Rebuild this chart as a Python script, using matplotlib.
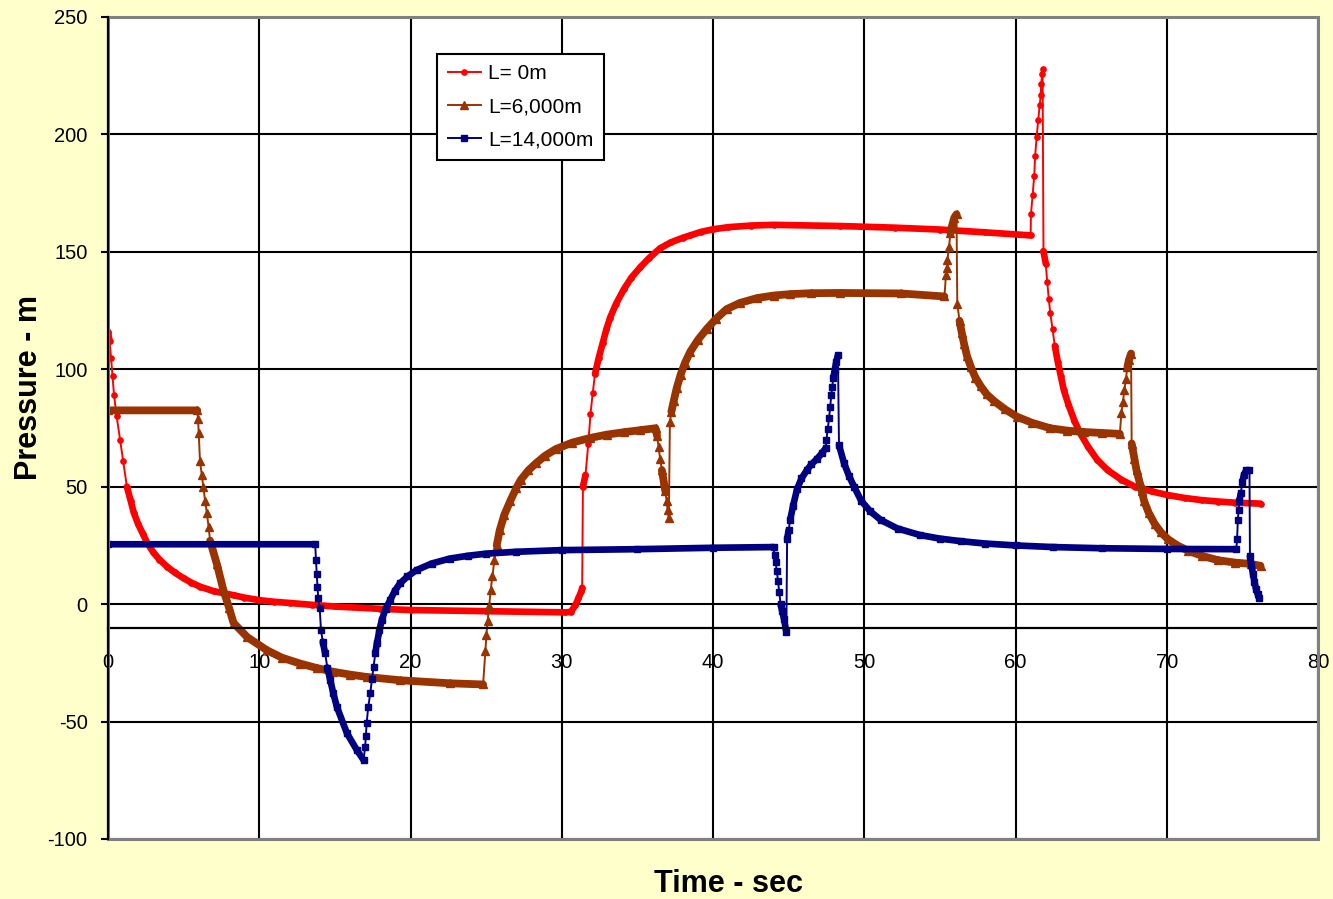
import numpy as np
import matplotlib
matplotlib.use("Agg")
import matplotlib.pyplot as plt
from matplotlib.patches import Rectangle

plt.rcParams['font.family'] = ['Liberation Sans', 'DejaVu Sans']
plt.rcParams['axes.unicode_minus'] = False

# L = 0 m
t_red = [0.0, 0.1, 0.2, 0.3, 0.4, 0.57, 0.8, 1.0, 1.25, 1.5, 1.7, 2.0, 2.3, 2.6, 3.0,
         3.4, 3.9, 4.4, 5.0, 5.5, 6.1, 7.0, 8.3, 9.0, 10, 11, 12, 13.5, 15, 18, 20,
         25, 30.2, 30.6, 30.9, 31.1, 31.3, 31.35,
         31.4, 31.57, 31.75, 31.9, 32.05, 32.2, 32.45, 32.7, 32.95, 33.2, 33.6, 34.1,
         34.6, 35.2, 35.8, 36.5, 37.2, 38.0, 38.5, 39.2, 40, 41, 42.5, 44, 48.4, 52,
         55, 58, 61.0, 61.02, 61.13, 61.24, 61.3, 61.4, 61.5,
         61.6, 61.67, 61.7, 61.76, 61.79, 61.85, 62.0, 62.1, 62.2, 62.3, 62.45, 62.6,
         62.8, 63.0, 63.2, 63.5, 63.9, 64.3, 64.8, 65.4, 66.1, 67.0, 67.9, 69.0, 70.1,
         71.2, 72.3, 73.4, 74.5, 76.2]
p_red = [116, 112, 105, 97, 89, 80, 70, 61, 50, 44, 39, 34, 30, 26, 22,
         19, 16, 13.5, 11, 9.2, 7.4, 5.5, 3.8, 2.8, 1.7, 1.0, 0.5, -0.3, -1, -2, -2.5,
         -3, -3.5, -3.3, -0.5, 2.5, 5.5, 7,
         50, 55, 68, 81, 90, 98, 105, 111, 117, 122, 128, 134,
         139, 143.5, 147.5, 151.5, 154, 156, 157, 158.5, 159.6, 160.5, 161.2, 161.5, 161, 160.3,
         159.5, 158.3, 157, 166, 174, 182.5, 191, 199, 206,
         212.6, 216.7, 221.5, 225.6, 228, 150.3, 145, 137, 130, 124, 117, 110,
         103, 97, 91, 85, 78, 72.5, 67, 61.5, 57, 53, 50, 48, 46.4,
         45.2, 44.3, 43.7, 43.2, 42.8]

# L = 6,000 m
t_brown = [0, 5.9, 5.95, 6.0, 6.08, 6.2, 6.3, 6.42, 6.53, 6.65, 6.75, 7.2, 7.63, 8.0,
           8.3, 9.2, 10.5, 11.5, 12.7, 13.8, 14.9, 16, 17.1, 19.3, 22.6, 24.8, 24.95,
           25.02, 25.1, 25.2, 25.3, 25.42, 25.55, 25.7, 25.9, 26.2, 26.6, 27.0, 27.3,
           27.8, 28.3, 28.9, 29.6, 30.7, 31.9, 33.0, 34.1, 35.2,
           36.2, 36.3, 36.4, 36.5, 36.62, 36.75, 36.85, 36.93, 37.0, 37.08, 37.15,
           37.25, 37.4, 37.6, 37.86, 38.15, 38.5, 39.0, 39.6, 40.2, 40.9, 41.8, 42.9,
           44.0, 45.1, 46.5, 48.4, 52.4, 55.3,
           55.4, 55.45, 55.5, 55.6, 55.7, 55.8, 55.95, 56.1, 56.15, 56.3, 56.45, 56.6,
           56.8, 57.05, 57.35, 57.7, 58.1, 58.6, 59.3, 60.1, 61.1, 62.3, 63.4, 64.5,
           65.7, 66.9, 67.0, 67.1, 67.2, 67.3, 67.4, 67.5,
           67.64, 67.68, 67.86, 68.0, 68.2, 68.35, 68.5, 68.8, 69.2, 69.6, 70.07, 70.7,
           71.4, 72.3, 73.4, 74.5, 75.6, 76.2]
p_brown = [82.5, 82.5, 79, 72.7, 61, 55, 50, 44, 39, 33, 27, 17, 6, -1.5,
           -8, -14, -19.6, -22.8, -25.3, -27.2, -28.8, -30, -31, -32.4, -33.7, -34.2, -20,
           -13, -7, -1, 6, 12, 19, 25, 31.5, 38, 44, 49.5, 53,
           57, 60, 63.2, 66, 68.8, 70.8, 72.2, 73.2, 74.1,
           74.9, 71.7, 67, 62, 57, 52, 48, 44, 40, 36.6, 77.5,
           82, 86.4, 92, 97.7, 102.8, 107.5, 112.5, 117.3, 121.5, 125.6, 128.3, 130.3,
           131.4, 132, 132.4, 132.5, 132.3, 131,
           140, 143, 146.6, 152, 158, 161, 164.5, 166, 128, 120.6, 115.5, 110.8,
           105.5, 101, 96.5, 92.8, 89.3, 86.4, 83, 79.8, 77.2, 74.9, 73.9, 73.3,
           72.9, 72.5, 81.4, 86, 91.2, 96, 101, 104,
           106.7, 68.4, 61.9, 57, 52.1, 48, 44, 39, 34.2, 30.7, 27.7, 25,
           22.8, 20.6, 18.7, 17.7, 17.1, 16.3]

# L = 14,000 m
t_blue = [0, 13.7, 13.75, 13.8, 13.85, 13.9, 14.0, 14.08, 14.2, 14.36, 14.5, 14.7,
          14.9, 15.13, 15.8, 16.46, 16.9, 17.0, 17.05, 17.1, 17.2, 17.34, 17.45,
          17.56, 17.67, 17.78, 17.95, 18.1, 18.35, 18.66, 18.95, 19.3, 19.8, 20.4,
          21.4, 22.6, 23.8, 25, 27, 30, 35,
          40, 44.0, 44.07, 44.14, 44.22, 44.3, 44.38, 44.47, 44.58, 44.7, 44.85, 44.9,
          45.0, 45.1, 45.3, 45.56, 45.85, 46.2, 46.5, 46.9, 47.2, 47.45, 47.5, 47.58,
          47.67, 47.75, 47.82, 47.88, 47.95, 48.05, 48.15, 48.26, 48.33, 48.67, 49.0,
          49.33, 49.8, 50.4, 51.1, 52.2, 53.7, 55.0, 56.4, 58.0, 60, 62.5, 65.7, 70.0,
          74.6, 74.65, 74.7, 74.75, 74.8, 74.9, 75.0, 75.1, 75.25,
          75.47, 75.5, 75.6, 75.7, 75.8, 75.9, 76.0, 76.1]
p_blue = [25.5, 25.5, 18.7, 13, 7.4, 2.5, -1.8, -11, -16, -21, -27, -32.4,
          -38, -43.7, -55, -62.2, -66.4, -60.7, -56, -50.8, -44, -38, -32,
          -26.7, -21, -16.7, -11, -6.8, -2, 1.7, 5.5, 8.8, 11.8, 14.5,
          17.3, 19.4, 20.6, 21.5, 22.3, 23, 23.4,
          24, 24.3, 21, 17.9, 14, 9.8, 5, 0, -3, -6.4, -12, 27.7,
          31.5, 35.8, 42, 49, 53.5, 57, 59.5, 62, 64.3, 66.4, 70.1, 74.4,
          79.1, 84, 89, 92.5, 96.1, 99.6, 103.2, 106, 67.7, 59.9, 54.5,
          50, 44, 39.5, 35.8, 32.2, 29.4, 27.9, 26.8, 25.8, 25, 24.3, 23.8, 23.5,
          23.4, 27.7, 35.8, 40, 44, 47.3, 52, 55, 57,
          57, 20.4, 16.5, 13, 9.5, 6.5, 4.5, 2.6]

# label, x, y, colour, marker, marker size, band width
series = [
    ("L= 0m", t_red, p_red, "#FF0000", "o", 3.8, 4.8),
    ("L=6,000m", t_brown, p_brown, "#993300", "^", 5.2, 5.6),
    ("L=14,000m", t_blue, p_blue, "#000080", "s", 3.9, 4.8),
]


def band(t, p, thr=40.0):
    # break the thick line where the curve is steep, so only markers show there
    t = np.asarray(t, float)
    p = np.asarray(p, float)
    slope = np.abs(np.diff(p) / np.diff(t))
    xs, ys = [t[0]], [p[0]]
    for i, s in enumerate(slope):
        if s > thr:
            xs.append(np.nan)
            ys.append(np.nan)
        xs.append(t[i + 1])
        ys.append(p[i + 1])
    return xs, ys


fig = plt.figure(figsize=(13.33, 8.99), dpi=100, facecolor="#FFFFCC")
ax = fig.add_axes([108 / 1333, 1 - 839 / 899, 1210 / 1333, 822 / 899])
ax.set_facecolor("white")

for label, t, p, c, m, ms, bw in series:
    bx, by = band(t, p)
    ax.plot(bx, by, color=c, lw=bw, solid_capstyle="round",
            solid_joinstyle="round", zorder=2)
    ax.plot(t, p, color=c, lw=1.4, marker=m, ms=ms, mfc=c, mec=c,
            label=label, zorder=2)

ax.set_xlim(0, 80)
ax.set_ylim(-100, 250)
ax.set_xticks(np.arange(0, 81, 10))
ax.set_yticks(np.arange(-100, 251, 50))
ax.grid(True, color="black", lw=1.5, zorder=1)
ax.set_axisbelow(True)

ax.spines["top"].set_visible(False)
ax.spines["right"].set_visible(False)
ax.spines["bottom"].set_position(("data", -10))
ax.spines["bottom"].set_linewidth(1.6)
ax.spines["left"].set_linewidth(1.6)
ax.spines["left"].set_zorder(4)
ax.add_patch(Rectangle((0, 0), 1, 1, transform=ax.transAxes, fill=False,
                       edgecolor="#808080", lw=2.2, zorder=3, clip_on=False))

ax.tick_params(axis="y", direction="out", length=4.7, width=1.5,
               labelsize=14.5, pad=10)
ax.tick_params(axis="x", direction="out", length=3.6, width=1.5,
               labelsize=14.5, pad=15)

leg = ax.legend(loc="upper left", bbox_to_anchor=(0.272, 0.955), borderaxespad=0,
                fontsize=15, frameon=True, fancybox=False, shadow=False,
                handlelength=1.6, handletextpad=0.35, labelspacing=0.68,
                borderpad=0.5)
leg.get_frame().set_edgecolor("black")
leg.get_frame().set_linewidth(1.5)
leg.get_frame().set_facecolor("white")
leg.get_frame().set_alpha(1)

fig.text(728 / 1333, 1 - 892 / 899, "Time - sec", ha="center", va="baseline",
         fontsize=22, fontweight="bold")
fig.text(37 / 1333, 1 - 387.5 / 899, "Pressure - m", rotation=90,
         rotation_mode="anchor", ha="center", va="baseline",
         fontsize=22, fontweight="bold")

fig.savefig("out.png", dpi=100, facecolor=fig.get_facecolor())
